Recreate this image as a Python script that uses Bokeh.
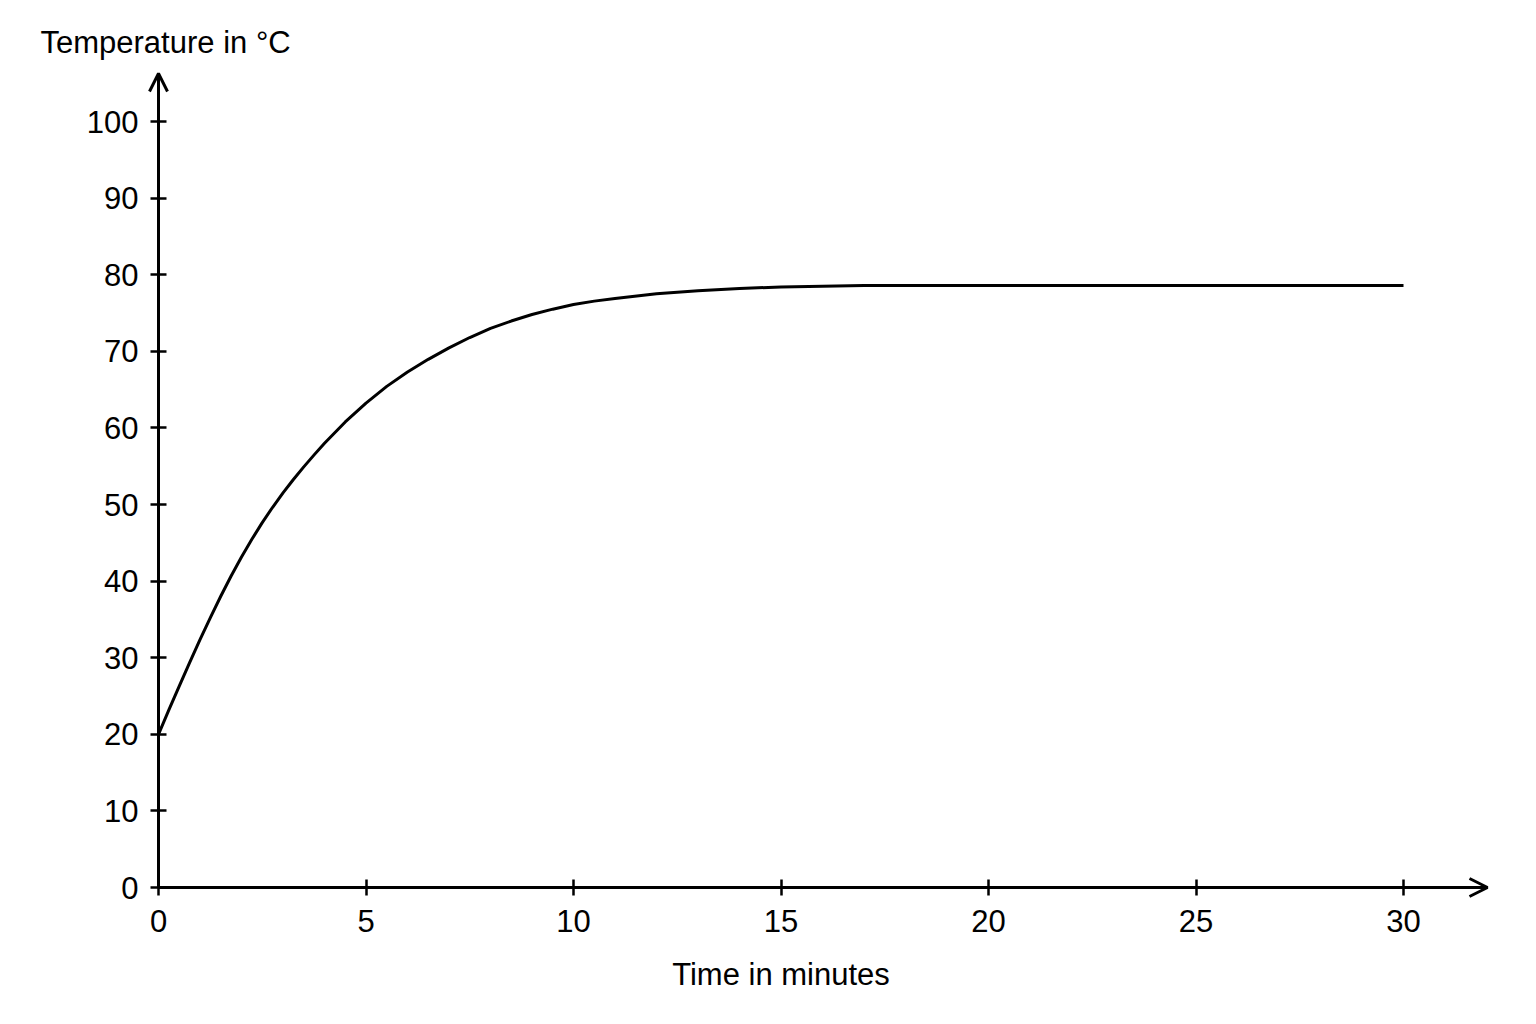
from bokeh.plotting import figure
from bokeh.models import Range1d, FixedTicker, Arrow, OpenHead, Label, LinearAxis
from bokeh.embed import file_html
from bokeh.resources import INLINE

# data
time_min = [0, 0.25, 0.5, 0.75, 1, 1.25, 1.5, 1.75, 2, 2.25, 2.5, 2.75, 3, 3.25,
            3.5, 3.75, 4, 4.5, 5, 5.5, 6, 6.5, 7, 7.5, 8, 8.5, 9, 9.5, 10, 10.5,
            11, 12, 13, 14, 15, 16, 17, 18, 20, 25, 30]
temp_c = [20, 23.18, 26.3, 29.36, 32.35, 35.24, 38.02, 40.67, 43.15, 45.47, 47.63,
          49.64, 51.51, 53.26, 54.91, 56.48, 57.99, 60.78, 63.24, 65.42, 67.3,
          68.95, 70.45, 71.8, 73.0, 73.95, 74.8, 75.5, 76.1, 76.55, 76.9, 77.5,
          77.9, 78.2, 78.4, 78.5, 78.6, 78.6, 78.6, 78.6, 78.6]
x_ticks = [0, 5, 10, 15, 20, 25, 30]
y_ticks = [0, 10, 20, 30, 40, 50, 60, 70, 80, 90, 100]

FONT = "Liberation Sans"
FONT_SIZE = "31px"
W, H = 1528, 1016
# pixel position of the origin and pixels per unit
X0, Y0 = 158, 887
PX_X, PX_Y = 41.5, 7.66
X_END = (1487 - X0) / PX_X
Y_END = (Y0 - 73) / PX_Y

p = figure(
    width=W, height=H,
    x_range=Range1d(-X0 / PX_X, (W - X0) / PX_X),
    y_range=Range1d((Y0 - H) / PX_Y, Y0 / PX_Y),
    x_axis_type=None, y_axis_type=None,
    output_backend="svg", toolbar_location=None, min_border=0,
)
p.outline_line_color = None
p.background_fill_color = "white"
p.border_fill_color = "white"

xaxis = LinearAxis(fixed_location=0, bounds=(0, X_END), ticker=FixedTicker(ticks=x_ticks))
yaxis = LinearAxis(fixed_location=0, bounds=(0, Y_END), ticker=FixedTicker(ticks=y_ticks))
for ax in (xaxis, yaxis):
    ax.axis_line_width = 3
    ax.axis_line_color = "black"
    ax.major_tick_line_width = 2.5
    ax.major_tick_line_color = "black"
    ax.major_tick_in = 8
    ax.major_tick_out = 8
    ax.minor_tick_line_color = None
    ax.major_label_text_font = FONT
    ax.major_label_text_font_size = FONT_SIZE
    ax.major_label_text_color = "black"
xaxis.major_label_standoff = 14
yaxis.major_label_standoff = 12
p.add_layout(xaxis, "below")
p.add_layout(yaxis, "left")

# the curve
p.line(time_min, temp_c, line_color="black", line_width=3, line_join="round")

# arrow heads on the axes
p.add_layout(Arrow(end=OpenHead(size=18, line_width=3, line_color="black"),
                   x_start=0, y_start=0, x_end=X_END, y_end=0,
                   line_width=3, line_color="black"))
p.add_layout(Arrow(end=OpenHead(size=18, line_width=3, line_color="black"),
                   x_start=0, y_start=0, x_end=0, y_end=Y_END,
                   line_width=3, line_color="black"))

# axis titles
p.add_layout(Label(x=(40 - X0) / PX_X, y=(Y0 - 42) / PX_Y, text="Temperature in °C",
                   text_font=FONT, text_font_size=FONT_SIZE, text_align="left",
                   text_baseline="middle", text_color="black"))
p.add_layout(Label(x=15, y=(Y0 - 974) / PX_Y, text="Time in minutes",
                   text_font=FONT, text_font_size=FONT_SIZE, text_align="center",
                   text_baseline="middle", text_color="black"))

open("out.html", "w").write(file_html(p, INLINE))
